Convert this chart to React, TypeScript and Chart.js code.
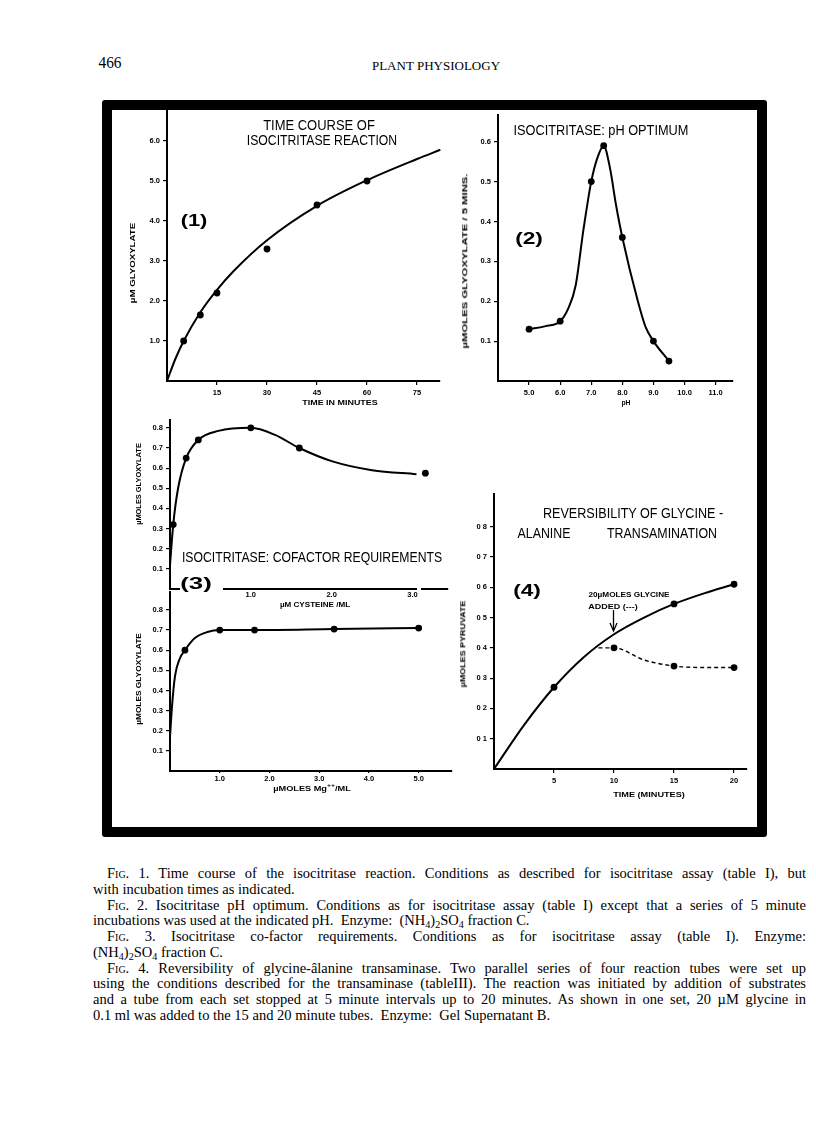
import React, { useEffect, useLayoutEffect, useRef } from "react";
import { Chart, registerables } from "chart.js";

Chart.register(...registerables);

// ---------------- Fig. 1 : time course ----------------
const fig1Minutes = [5, 10, 15, 30, 45, 60];
const fig1Glyoxylate = [1.0, 1.65, 2.2, 3.3, 4.4, 5.0];
const fig1CurveMinutes = [0, 2.5, 5, 10, 15, 20, 30, 45, 60, 75, 82];
const fig1CurveGlyoxylate = [0, 0.55, 1.0, 1.72, 2.28, 2.75, 3.52, 4.38, 5.02, 5.55, 5.78];
const fig1XTicks = [15, 30, 45, 60, 75];
const fig1XLabels = ["15", "30", "45", "60", "75"];
const fig1YTicks = [1, 2, 3, 4, 5, 6];
const fig1YLabels = ["1.0", "2.0", "3.0", "4.0", "5.0", "6.0"];

// ---------------- Fig. 2 : pH optimum ----------------
const fig2PH = [5.0, 6.0, 7.0, 7.4, 8.0, 9.0, 9.5];
const fig2Rate = [0.13, 0.15, 0.5, 0.59, 0.36, 0.1, 0.05];
const fig2CurvePH = [5.0, 5.5, 6.0, 6.25, 6.5, 6.75, 7.0, 7.2, 7.4, 7.6, 7.8, 8.0, 8.5, 8.75, 9.0, 9.5];
const fig2CurveRate = [0.13, 0.137, 0.15, 0.18, 0.24, 0.38, 0.5, 0.56, 0.59, 0.535, 0.44, 0.36, 0.2, 0.135, 0.1, 0.05];
const fig2XTicks = [5, 6, 7, 8, 9, 10, 11];
const fig2XLabels = ["5.0", "6.0", "7.0", "8.0", "9.0", "10.0", "11.0"];
const fig2YTicks = [0.1, 0.2, 0.3, 0.4, 0.5, 0.6];
const fig2YLabels = ["0.1", "0.2", "0.3", "0.4", "0.5", "0.6"];

// ---------------- Fig. 3 (upper) : cysteine ----------------
const fig3aCysteine = [0.04, 0.2, 0.35, 1.0, 1.6, 3.16];
const fig3aGlyoxylate = [0.32, 0.65, 0.74, 0.8, 0.7, 0.575];
const fig3aCurveCysteine = [0, 0.04, 0.1, 0.2, 0.35, 0.6, 1.0, 1.3, 1.6, 2.0, 2.5, 3.05];
const fig3aCurveGlyoxylate = [0.12, 0.32, 0.5, 0.65, 0.74, 0.785, 0.8, 0.765, 0.7, 0.635, 0.59, 0.57];
const fig3aXTicks = [1, 2, 3];
const fig3aXLabels = ["1.0", "2.0", "3.0"];
const fig3YTicks = [0.1, 0.2, 0.3, 0.4, 0.5, 0.6, 0.7, 0.8];
const fig3YLabels = ["0.1", "0.2", "0.3", "0.4", "0.5", "0.6", "0.7", "0.8"];

// ---------------- Fig. 3 (lower) : Mg++ ----------------
const fig3bMg = [0.3, 1.0, 1.7, 3.3, 5.0];
const fig3bGlyoxylate = [0.6, 0.7, 0.7, 0.705, 0.71];
const fig3bCurveMg = [0, 0.04, 0.1, 0.2, 0.3, 0.5, 0.75, 1.0, 1.7, 3.3, 5.0];
const fig3bCurveGlyoxylate = [0.17, 0.32, 0.47, 0.56, 0.6, 0.66, 0.69, 0.7, 0.7, 0.705, 0.71];
const fig3bXTicks = [1, 2, 3, 4, 5];
const fig3bXLabels = ["1.0", "2.0", "3.0", "4.0", "5.0"];

// ---------------- Fig. 4 : transamination ----------------
const fig4Minutes = [5, 15, 20];
const fig4Pyruvate = [0.27, 0.545, 0.61];
const fig4CurveMinutes = [0, 2.5, 5, 7.5, 10, 12.5, 15, 17.5, 20];
const fig4CurvePyruvate = [0, 0.145, 0.27, 0.37, 0.445, 0.5, 0.545, 0.58, 0.61];
const fig4GlyMinutes = [10, 15, 20];
const fig4GlyPyruvate = [0.4, 0.34, 0.335];
const fig4GlyCurveMinutes = [8.7, 10, 12.5, 15, 17.5, 20];
const fig4GlyCurvePyruvate = [0.4, 0.4, 0.36, 0.34, 0.335, 0.335];
const fig4XTicks = [5, 10, 15, 20];
const fig4XLabels = ["5", "10", "15", "20"];
const fig4YTicks = [0.1, 0.2, 0.3, 0.4, 0.5, 0.6, 0.7, 0.8];
const fig4YLabels = ["0 1", "0 2", "0 3", "0 4", "0 5", "0 6", "0 7", "0 8"];

const SANS = "'Liberation Sans', Arial, Helvetica, sans-serif";
const SERIF = "'Liberation Serif', 'Times New Roman', serif";

const pts = (xs: number[], ys: number[]) => xs.map((x, i) => ({ x, y: ys[i] }));

const curve = (xs: number[], ys: number[], dash?: number[]) => ({
  data: pts(xs, ys),
  showLine: true,
  borderColor: "#000",
  borderWidth: dash ? 1.4 : 2,
  borderDash: dash || [],
  pointRadius: 0,
  cubicInterpolationMode: "monotone",
  clip: 2,
});

const dots = (xs: number[], ys: number[]) => ({
  data: pts(xs, ys),
  showLine: false,
  pointRadius: 3.4,
  pointBackgroundColor: "#000",
  pointBorderColor: "#000",
  pointBorderWidth: 0,
  clip: false,
});

const L = 50,
  B = 26,
  T = 12,
  R = 24;

type AxisSpec = [number, number, number[], string[], number?, number?];

const scaleOpts = (axis: "x" | "y", a: AxisSpec) => {
  const [min, max, ticks, labels, tickLen = 4, pad = 3] = a;
  return {
    type: "linear",
    min,
    max,
    afterBuildTicks: (s: any) => {
      s.ticks = ticks.map((v) => ({ value: v }));
    },
    afterFit: (s: any) => {
      if (axis === "x") s.height = B;
      else s.width = L;
    },
    ticks: {
      callback: (_v: any, i: number) => labels[i],
      font: { family: SANS, size: 7.5, weight: "bold" },
      color: "#000",
      padding: pad,
      maxRotation: 0,
      minRotation: 0,
      autoSkip: false,
    },
    grid: {
      display: true,
      drawOnChartArea: false,
      drawTicks: tickLen > 0,
      tickLength: tickLen,
      color: "#000",
      lineWidth: 1.2,
    },
    border: { display: true, color: "#000", width: 2 },
  };
};

type Spec = {
  left: number;
  top: number;
  right: number;
  bottom: number;
  x: AxisSpec;
  y: AxisSpec;
  datasets: any[];
};

function Panel({ spec }: { spec: Spec }) {
  const ref = useRef<HTMLCanvasElement>(null);
  const w = L + (spec.right - spec.left) + R;
  const h = T + (spec.bottom - spec.top) + B;
  useEffect(() => {
    const chart = new Chart(ref.current as HTMLCanvasElement, {
      type: "scatter",
      data: { datasets: spec.datasets },
      options: {
        animation: false,
        responsive: false,
        maintainAspectRatio: false,
        devicePixelRatio: 1,
        events: [],
        layout: { padding: { left: 0, top: T, right: R, bottom: 0 } },
        plugins: { legend: { display: false }, tooltip: { enabled: false } },
        scales: {
          x: scaleOpts("x", spec.x),
          y: scaleOpts("y", spec.y),
        },
      } as any,
    });
    return () => chart.destroy();
  }, []);
  return (
    <canvas
      ref={ref}
      width={w}
      height={h}
      style={{ position: "absolute", left: spec.left - L, top: spec.top - T, width: w, height: h }}
    />
  );
}

type TxtProps = {
  x1?: number;
  x2?: number;
  cx?: number;
  y1?: number;
  y2?: number;
  cy?: number;
  size: number;
  bold?: boolean;
  rot?: boolean;
  family?: string;
  children: React.ReactNode;
};

function Txt(p: TxtProps) {
  const ref = useRef<HTMLDivElement>(null);
  const cx = p.rot ? (p.cx as number) : p.cx ?? ((p.x1 as number) + (p.x2 as number)) / 2;
  const cy = p.rot ? ((p.y1 as number) + (p.y2 as number)) / 2 : (p.cy as number);
  const target = p.rot ? (p.y2 as number) - (p.y1 as number) : p.x1 != null ? (p.x2 as number) - p.x1 : 0;
  useLayoutEffect(() => {
    const el = ref.current;
    if (!el) return;
    const nat = el.offsetWidth;
    const s = target && nat ? target / nat : 1;
    el.style.transform = `translate(-50%,-50%)${p.rot ? " rotate(-90deg)" : ""} scaleX(${s})`;
  }, []);
  return (
    <div
      ref={ref}
      style={{
        position: "absolute",
        left: cx,
        top: cy,
        fontSize: p.size,
        fontFamily: p.family || SANS,
        fontWeight: p.bold ? 700 : 400,
        whiteSpace: "nowrap",
        lineHeight: 1,
        color: "#000",
        transform: "translate(-50%,-50%)",
      }}
    >
      {p.children}
    </div>
  );
}

const sub: React.CSSProperties = { fontSize: "70%", verticalAlign: "-3px", lineHeight: 0 };
const GAP = "\u00a0 ";

function Line({ i, indent, justify, children }: { i: number; indent?: boolean; justify?: boolean; children: React.ReactNode }) {
  const left = indent ? 107 : 93;
  return (
    <div
      style={{
        position: "absolute",
        left,
        top: 865 + i * 15.75,
        width: 806 - left,
        fontFamily: SERIF,
        fontSize: 14.5,
        lineHeight: "16px",
        color: "#000",
        textAlign: justify ? "justify" : "left",
        textAlignLast: justify ? "justify" : "left",
      } as React.CSSProperties}
    >
      {children}
    </div>
  );
}

const Fig = () => <span style={{ fontVariant: "small-caps" }}>Fig.</span>;
const NH4 = () => (
  <>
    (NH<span style={sub}>4</span>)<span style={sub}>2</span>SO<span style={sub}>4</span>
  </>
);

const fig1Spec: Spec = {
  left: 167,
  top: 108,
  right: 440,
  bottom: 381,
  x: [0, 81.9, fig1XTicks, fig1XLabels],
  y: [0, 6.825, fig1YTicks, fig1YLabels],
  datasets: [curve(fig1CurveMinutes, fig1CurveGlyoxylate), dots(fig1Minutes, fig1Glyoxylate)],
};

const fig2Spec: Spec = {
  left: 498,
  top: 115,
  right: 733,
  bottom: 381,
  x: [4.0, 11.56, fig2XTicks, fig2XLabels],
  y: [0, 0.667, fig2YTicks, fig2YLabels],
  datasets: [curve(fig2CurvePH, fig2CurveRate), dots(fig2PH, fig2Rate)],
};

const fig3aSpec: Spec = {
  left: 170,
  top: 420,
  right: 448,
  bottom: 589,
  x: [0, 3.44, fig3aXTicks, fig3aXLabels, 0, 1],
  y: [0, 0.839, fig3YTicks, fig3YLabels],
  datasets: [curve(fig3aCurveCysteine, fig3aCurveGlyoxylate), dots(fig3aCysteine, fig3aGlyoxylate)],
};

const fig3bSpec: Spec = {
  left: 170,
  top: 592,
  right: 452,
  bottom: 771,
  x: [0, 5.67, fig3bXTicks, fig3bXLabels, 2, 1.5],
  y: [0, 0.889, fig3YTicks, fig3YLabels],
  datasets: [curve(fig3bCurveMg, fig3bCurveGlyoxylate), dots(fig3bMg, fig3bGlyoxylate)],
};

const fig4Spec: Spec = {
  left: 494,
  top: 494,
  right: 747,
  bottom: 769,
  x: [0, 21.08, fig4XTicks, fig4XLabels],
  y: [0, 0.908, fig4YTicks, fig4YLabels],
  datasets: [
    curve(fig4CurveMinutes, fig4CurvePyruvate),
    curve(fig4GlyCurveMinutes, fig4GlyCurvePyruvate, [4, 3]),
    dots(fig4Minutes, fig4Pyruvate),
    dots(fig4GlyMinutes, fig4GlyPyruvate),
  ],
};

export default function App() {
  return (
    <div style={{ position: "absolute", left: 0, top: 0, width: 816, height: 1121, background: "#fff", overflow: "hidden" }}>
      {/* running head */}
      <Txt x1={98} x2={121} cy={63} size={16} family={SERIF}>
        466
      </Txt>
      <Txt x1={372} x2={500} cy={66} size={12} family={SERIF}>
        PLANT PHYSIOLOGY
      </Txt>

      {/* figure frame */}
      <div
        style={{
          position: "absolute",
          left: 102,
          top: 100,
          width: 665,
          height: 737,
          border: "10px solid #000",
          boxSizing: "border-box",
          borderRadius: 3,
        }}
      />

      <Panel spec={fig1Spec} />
      <Panel spec={fig2Spec} />
      <Panel spec={fig3aSpec} />
      <Panel spec={fig3bSpec} />
      <Panel spec={fig4Spec} />

      {/* Fig 1 texts */}
      <Txt x1={263} x2={375} cy={125} size={14}>TIME COURSE OF</Txt>
      <Txt x1={247} x2={397} cy={140} size={14}>ISOCITRITASE REACTION</Txt>
      <Txt x1={180} x2={207} cy={220} size={17} bold>(1)</Txt>
      <Txt rot cx={133} y1={223} y2={303} size={7.5} bold>µM GLYOXYLATE</Txt>
      <Txt x1={302} x2={377} cy={403} size={7.5} bold>TIME IN MINUTES</Txt>

      {/* Fig 2 texts */}
      <Txt x1={513} x2={688} cy={130} size={14}>ISOCITRITASE: pH OPTIMUM</Txt>
      <Txt x1={515} x2={543} cy={238} size={17} bold>(2)</Txt>
      <Txt rot cx={465} y1={173} y2={348} size={7.5} bold>µMOLES GLYOXYLATE / 5 MINS.</Txt>
      <Txt x1={621} x2={630} cy={403} size={7.5} bold>pH</Txt>

      {/* Fig 3 texts */}
      <div style={{ position: "absolute", left: 180, top: 585, width: 43, height: 7, background: "#fff" }} />
      <div style={{ position: "absolute", left: 417, top: 585, width: 4, height: 7, background: "#fff" }} />
      <Txt x1={182} x2={442} cy={557} size={14}>ISOCITRITASE: COFACTOR REQUIREMENTS</Txt>
      <Txt x1={180} x2={212} cy={583} size={17} bold>(3)</Txt>
      <Txt rot cx={139} y1={443} y2={525} size={7.5} bold>µMOLES GLYOXYLATE</Txt>
      <Txt x1={280} x2={350} cy={605} size={7.5} bold>µM CYSTEINE /ML</Txt>
      <Txt rot cx={139} y1={633} y2={725} size={7.5} bold>µMOLES GLYOXYLATE</Txt>
      <Txt x1={273} x2={350} cy={789} size={7.5} bold>
        µMOLES M<span>g</span>
        <span style={{ fontSize: "75%", verticalAlign: "4px", lineHeight: 0 }}>++</span>/ML
      </Txt>

      {/* Fig 4 texts */}
      <Txt x1={543} x2={723} cy={513} size={14}>REVERSIBILITY OF GLYCINE -</Txt>
      <Txt x1={517} x2={570} cy={533} size={14}>ALANINE</Txt>
      <Txt x1={607} x2={717} cy={533} size={14}>TRANSAMINATION</Txt>
      <Txt x1={513} x2={541} cy={590} size={17} bold>(4)</Txt>
      <Txt x1={588} x2={669} cy={595} size={7.5} bold>20µMOLES GLYCINE</Txt>
      <Txt x1={588} x2={637} cy={607} size={7.5} bold>ADDED (---)</Txt>
      <svg style={{ position: "absolute", left: 608, top: 609, width: 11, height: 24 }} width={11} height={24}>
        <line x1={5.5} y1={1} x2={5.5} y2={21} stroke="#000" strokeWidth={1.3} />
        <polyline points="2,14 5.5,22 9,14" fill="none" stroke="#000" strokeWidth={1.3} />
      </svg>
      <Txt rot cx={463} y1={600} y2={687} size={7.5} bold>µMOLES PYRUVATE</Txt>
      <Txt x1={613} x2={685} cy={795} size={7.5} bold>TIME (MINUTES)</Txt>

      {/* captions */}
      <Line i={0} indent justify>
        <Fig /> 1. Time course of the isocitritase reaction. Conditions as described for isocitritase assay (table I), but
      </Line>
      <Line i={1}>with incubation times as indicated.</Line>
      <Line i={2} indent justify>
        <Fig /> 2. Isocitritase pH optimum. Conditions as for isocitritase assay (table I) except that a series of 5 minute
      </Line>
      <Line i={3}>
        incubations was used at the indicated pH.{GAP}Enzyme:{GAP}<NH4 /> fraction C.
      </Line>
      <Line i={4} indent justify>
        <Fig /> 3. Isocitritase co-factor requirements. Conditions as for isocitritase assay (table I). Enzyme:
      </Line>
      <Line i={5}>
        <NH4 /> fraction C.
      </Line>
      <Line i={6} indent justify>
        <Fig /> 4. Reversibility of glycine-âlanine transaminase. Two parallel series of four reaction tubes were set up
      </Line>
      <Line i={7} justify>
        using the conditions described for the transaminase (tableIII). The reaction was initiated by addition of substrates
      </Line>
      <Line i={8} justify>
        and a tube from each set stopped at 5 minute intervals up to 20 minutes. As shown in one set, 20 µM glycine in
      </Line>
      <Line i={9}>
        0.1 ml was added to the 15 and 20 minute tubes.{GAP}Enzyme:{GAP}Gel Supernatant B.
      </Line>
    </div>
  );
}
